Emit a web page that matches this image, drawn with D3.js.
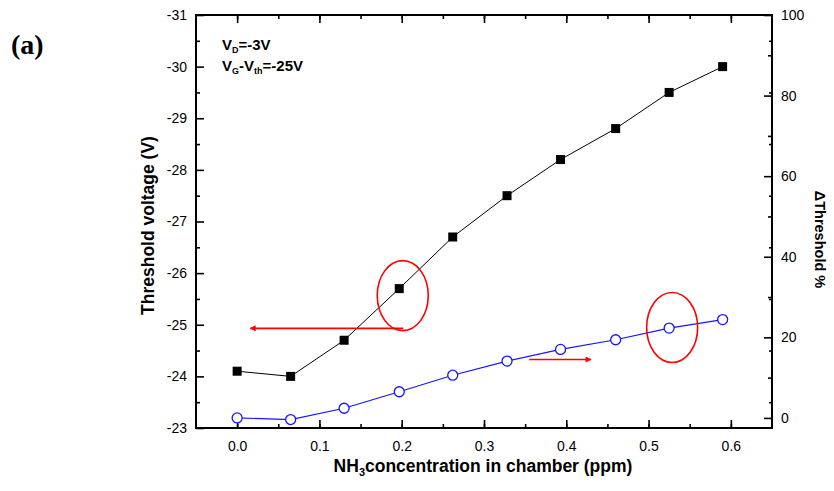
<!DOCTYPE html>
<html>
<head>
<meta charset="utf-8">
<script src="https://cdn.jsdelivr.net/npm/d3@7"></script>
<style>
  body { margin: 0; background: #fff; }
  svg { display: block; font-family: Arial, "Liberation Sans", sans-serif; }
</style>
</head>
<body>
<div id="box"></div>
<script>
// data
const conc = [0, 0.065, 0.13, 0.197, 0.262, 0.328, 0.393, 0.46, 0.525, 0.59];
const vth = [-24.1, -24.0, -24.7, -25.7, -26.7, -27.5, -28.2, -28.8, -29.5, -30.0];
const dvth = [0, -0.4, 2.4, 6.5, 10.6, 14.1, 17.0, 19.4, 22.3, 24.4];
const xTicks = [0, 0.1, 0.2, 0.3, 0.4, 0.5, 0.6];
const leftTicks = [-23, -24, -25, -26, -27, -28, -29, -30, -31];
const rightTicks = [0, 20, 40, 60, 80, 100];

const width = 834, height = 491;
const plotLeft = 196, plotRight = 772, plotTop = 15, plotBottom = 428;

const svg = d3.select('#box').append('svg')
  .attr('width', width)
  .attr('height', height);

const x = d3.scaleLinear().domain([-0.05, 0.65]).range([plotLeft, plotRight]);
const yL = d3.scaleLinear().domain([-23, -31]).range([plotBottom, plotTop]);
const yR = d3.scaleLinear().domain([-2.5, 100]).range([plotBottom, plotTop]);

const xMinor = d3.range(-0.05, 0.651, 0.05).filter(v => v > -0.04 && v < 0.64);
const intFmt = d => String(d);  // plain hyphen minus, like the original

// bottom axis, ticks inside
svg.append('g')
  .attr('transform', `translate(0,${plotBottom})`)
  .call(d3.axisBottom(x).tickValues(xMinor).tickSize(-4).tickFormat(''))
  .call(g => g.select('.domain').remove());
svg.append('g')
  .attr('transform', `translate(0,${plotBottom})`)
  .call(d3.axisBottom(x).tickValues(xTicks).tickSize(-8).tickPadding(13).tickFormat(d => d.toFixed(1)))
  .call(g => g.select('.domain').remove())
  .call(g => g.selectAll('text').attr('font-size', 14).attr('font-family', 'Arial'));

// top axis ticks
svg.append('g')
  .attr('transform', `translate(0,${plotTop})`)
  .call(d3.axisTop(x).tickValues(xMinor).tickSize(-4).tickFormat(''))
  .call(g => g.select('.domain').remove());
svg.append('g')
  .attr('transform', `translate(0,${plotTop})`)
  .call(d3.axisTop(x).tickValues(xTicks).tickSize(-8).tickFormat(''))
  .call(g => g.select('.domain').remove());

// left axis
svg.append('g')
  .attr('transform', `translate(${plotLeft},0)`)
  .call(d3.axisLeft(yL).tickValues(d3.range(-23.5, -31, -1)).tickSize(-4).tickFormat(''))
  .call(g => g.select('.domain').remove());
svg.append('g')
  .attr('transform', `translate(${plotLeft},0)`)
  .call(d3.axisLeft(yL).tickValues(leftTicks).tickSize(-8).tickPadding(9).tickFormat(intFmt))
  .call(g => g.select('.domain').remove())
  .call(g => g.selectAll('text').attr('font-size', 14).attr('font-family', 'Arial'));

// right axis: its own ticks plus mirrored left-axis ticks
svg.append('g')
  .attr('transform', `translate(${plotRight},0)`)
  .call(d3.axisRight(yL).tickValues(d3.range(-23.5, -31, -1)).tickSize(-3).tickFormat(''))
  .call(g => g.select('.domain').remove());
svg.append('g')
  .attr('transform', `translate(${plotRight},0)`)
  .call(d3.axisRight(yR).tickValues(d3.range(10, 100, 20)).tickSize(-4).tickFormat(''))
  .call(g => g.select('.domain').remove());
svg.append('g')
  .attr('transform', `translate(${plotRight},0)`)
  .call(d3.axisRight(yR).tickValues(rightTicks).tickSize(-8).tickPadding(9).tickFormat(intFmt))
  .call(g => g.select('.domain').remove())
  .call(g => g.selectAll('text').attr('font-size', 14).attr('font-family', 'Arial'));

svg.selectAll('.tick line').attr('stroke', '#000').attr('stroke-width', 1.6);

// frame
svg.append('rect')
  .attr('x', plotLeft).attr('y', plotTop)
  .attr('width', plotRight - plotLeft).attr('height', plotBottom - plotTop)
  .attr('fill', 'none').attr('stroke', '#000').attr('stroke-width', 2);

// black series
const blackPts = conc.map((c, i) => [c, vth[i]]);
svg.append('path')
  .datum(blackPts)
  .attr('fill', 'none').attr('stroke', '#000').attr('stroke-width', 1)
  .attr('d', d3.line().x(d => x(d[0])).y(d => yL(d[1])));
svg.selectAll('.sq').data(blackPts)
  .join('rect')
  .attr('class', 'sq')
  .attr('x', d => x(d[0]) - 4.5).attr('y', d => yL(d[1]) - 4.5)
  .attr('width', 9).attr('height', 9)
  .attr('fill', '#000');

// blue series
const bluePts = conc.map((c, i) => [c, dvth[i]]);
svg.append('path')
  .datum(bluePts)
  .attr('fill', 'none').attr('stroke', '#1515ff').attr('stroke-width', 1.2)
  .attr('d', d3.line().x(d => x(d[0])).y(d => yR(d[1])));
svg.selectAll('.ci').data(bluePts)
  .join('circle')
  .attr('class', 'ci')
  .attr('cx', d => x(d[0])).attr('cy', d => yR(d[1]))
  .attr('r', 5)
  .attr('fill', '#fff').attr('stroke', '#1515ff').attr('stroke-width', 1.3);

// red annotations
const defs = svg.append('defs');
defs.append('marker')
  .attr('id', 'head')
  .attr('viewBox', '0 0 10 10')
  .attr('refX', 9).attr('refY', 5)
  .attr('markerWidth', 9).attr('markerHeight', 6)
  .attr('markerUnits', 'userSpaceOnUse')
  .attr('orient', 'auto')
  .append('path').attr('d', 'M0,0L10,5L0,10Z').attr('fill', '#ff0000');

svg.append('ellipse')
  .attr('cx', x(conc[3]) + 3.5).attr('cy', yL(vth[3]) + 7)
  .attr('rx', 25.5).attr('ry', 35)
  .attr('fill', 'none').attr('stroke', '#ff0000').attr('stroke-width', 1.6);
svg.append('line')
  .attr('x1', x(conc[3]) + 4).attr('y1', yL(-24.93))
  .attr('x2', x(0.016)).attr('y2', yL(-24.93))
  .attr('stroke', '#ff0000').attr('stroke-width', 1.6)
  .attr('marker-end', 'url(#head)');

svg.append('ellipse')
  .attr('cx', x(conc[8]) + 3).attr('cy', yR(dvth[8]) - 0.5)
  .attr('rx', 25.5).attr('ry', 35)
  .attr('fill', 'none').attr('stroke', '#ff0000').attr('stroke-width', 1.6);
svg.append('line')
  .attr('x1', x(0.355)).attr('y1', yR(14.5))
  .attr('x2', x(0.43)).attr('y2', yR(14.5))
  .attr('stroke', '#ff0000').attr('stroke-width', 1.6)
  .attr('marker-end', 'url(#head)');

// texts
svg.append('text')
  .attr('x', 11).attr('y', 54)
  .attr('font-family', '"Liberation Serif", "Times New Roman", serif')
  .attr('font-weight', 'bold').attr('font-size', 28)
  .text('(a)');

const t1 = svg.append('text')
  .attr('x', 222).attr('y', 50)
  .attr('font-weight', 'bold').attr('font-size', 15);
t1.append('tspan').text('V');
t1.append('tspan').attr('font-size', 9).attr('dy', 3).text('D');
t1.append('tspan').attr('dy', -3).text('=-3V');

const t2 = svg.append('text')
  .attr('x', 222).attr('y', 71)
  .attr('font-weight', 'bold').attr('font-size', 15);
t2.append('tspan').text('V');
t2.append('tspan').attr('font-size', 9).attr('dy', 3).text('G');
t2.append('tspan').attr('dy', -3).text('-V');
t2.append('tspan').attr('font-size', 9).attr('dy', 3).text('th');
t2.append('tspan').attr('dy', -3).text('=-25V');

const xt = svg.append('text')
  .attr('x', (plotLeft + plotRight) / 2 - 1).attr('y', 472)
  .attr('text-anchor', 'middle')
  .attr('font-weight', 'bold').attr('font-size', 17.5);
xt.append('tspan').text('NH');
xt.append('tspan').attr('font-size', 11).attr('dy', 4).text('3');
xt.append('tspan').attr('dy', -4).text('concentration in chamber (ppm)');

svg.append('text')
  .attr('transform', `translate(154,${(plotTop + plotBottom) / 2 + 4}) rotate(-90)`)
  .attr('text-anchor', 'middle')
  .attr('font-weight', 'bold').attr('font-size', 17.5)
  .text('Threshold voltage (V)');

svg.append('text')
  .attr('transform', `translate(815,${(plotTop + plotBottom) / 2 + 18}) rotate(90)`)
  .attr('text-anchor', 'middle')
  .attr('font-weight', 'bold').attr('font-size', 14.5)
  .text('ΔThreshold %');
</script>
</body>
</html>
